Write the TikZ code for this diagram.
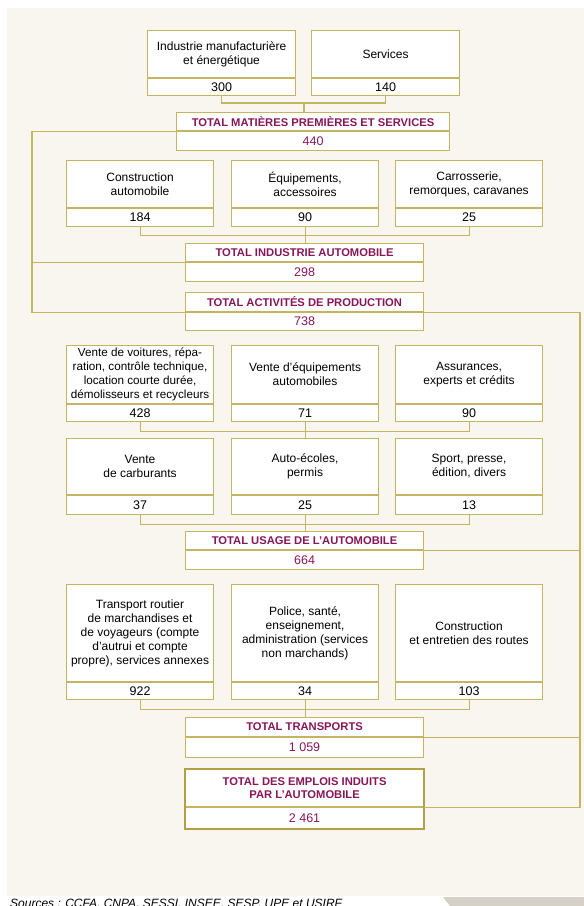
\documentclass[tikz,border=0pt]{standalone}
\usepackage{fontspec}
\setmainfont{Liberation Sans}
\usepackage{xcolor}
\usetikzlibrary{positioning}

\definecolor{goldline}{RGB}{197,180,98}
\definecolor{goldthick}{RGB}{178,160,72}
\definecolor{plum}{RGB}{137,22,88}
\definecolor{paper}{RGB}{249,246,239}
\definecolor{cornergrey}{RGB}{214,209,199}

\begin{document}
\begin{tikzpicture}[x=1pt, y=-1pt,
            catbox/.style={draw=goldline,fill=white,line width=1.1pt,inner sep=0pt,minimum width=147pt,align=center,anchor=north west,font=\fontsize{12}{14}\selectfont},
            numbox/.style={draw=goldline,fill=white,line width=1.1pt,inner sep=0pt,minimum width=147pt,minimum height=18pt,font=\fontsize{12.5}{14}\selectfont},
            totbox/.style={draw=goldline,fill=white,line width=1.1pt,inner sep=0pt,minimum width=238pt,minimum height=18pt,align=center,anchor=north west,text=plum,font=\fontsize{11.2}{13.5}\selectfont\bfseries},
            totnum/.style={draw=goldline,fill=white,line width=1.1pt,inner sep=0pt,minimum width=238pt,minimum height=19pt,text=plum,font=\fontsize{12.5}{14}\selectfont},
            link/.style={draw=goldline,line width=1.1pt}
        ]
            % Page and panel
            \useasboundingbox (0,0) rectangle (584,906);
            \fill[paper] (7,8) rectangle (584,896);
            \fill[cornergrey] (443,897) -- (584,897) -- (584,906) -- (450,906) -- cycle;

            % Raw materials and services
            \node[catbox,minimum width=148pt,minimum height=47pt] (ind) at (147,30) {Industrie manufacturière\\et énergétique};
            \node[numbox,minimum width=148pt,minimum height=17pt,below=0pt of ind] (ind-n) {300};
            \node[catbox,minimum width=148pt,minimum height=47pt] (serv) at (311,30) {Services};
            \node[numbox,minimum width=148pt,minimum height=17pt,below=0pt of serv] (serv-n) {140};

            \node[totbox,minimum width=273pt] (tmp) at (176,112) {TOTAL MATIÈRES PREMIÈRES ET SERVICES};
            \node[totnum,minimum width=273pt,below=0pt of tmp] (tmp-n) {440};

            % Automobile industry
            \node[catbox,minimum height=47pt] (constr) at (66,160) {Construction\\automobile};
            \node[numbox,below=0pt of constr] (constr-n) {184};
            \node[catbox,minimum height=47pt] (equip) at (231,160) {Équipements,\\accessoires};
            \node[numbox,below=0pt of equip] (equip-n) {90};
            \node[catbox,minimum height=47pt] (carr) at (395,160) {Carrosserie,\\remorques, caravanes};
            \node[numbox,below=0pt of carr] (carr-n) {25};

            \node[totbox] (tia) at (185,243) {TOTAL INDUSTRIE AUTOMOBILE};
            \node[totnum,below=0pt of tia] (tia-n) {298};

            \node[totbox,minimum height=19pt] (tap) at (185,292) {TOTAL ACTIVITÉS DE PRODUCTION};
            \node[totnum,minimum height=18pt,below=0pt of tap] (tap-n) {738};

            % Use of the automobile
            \node[catbox,minimum height=58pt,font=\fontsize{11.7}{14}\selectfont] (vente) at (66,345) {Vente de voitures, répa-\\ration, contrôle technique,\\location courte durée,\\démolisseurs et recycleurs};
            \node[numbox,minimum height=17pt,below=0pt of vente] (vente-n) {428};
            \node[catbox,minimum height=58pt] (equipv) at (231,345) {Vente d’équipements\\automobiles};
            \node[numbox,minimum height=17pt,below=0pt of equipv] (equipv-n) {71};
            \node[catbox,minimum height=58pt] (assur) at (395,345) {Assurances,\\experts et crédits};
            \node[numbox,minimum height=17pt,below=0pt of assur] (assur-n) {90};

            \node[catbox,minimum height=56pt] (carb) at (66,438) {Vente\\de carburants};
            \node[numbox,minimum height=19pt,below=0pt of carb] (carb-n) {37};
            \node[catbox,minimum height=56pt] (ecole) at (231,438) {Auto-écoles,\\permis};
            \node[numbox,minimum height=19pt,below=0pt of ecole] (ecole-n) {25};
            \node[catbox,minimum height=56pt] (sport) at (395,438) {Sport, presse,\\édition, divers};
            \node[numbox,minimum height=19pt,below=0pt of sport] (sport-n) {13};

            \node[totbox] (tua) at (185,531) {TOTAL USAGE DE L’AUTOMOBILE};
            \node[totnum,below=0pt of tua] (tua-n) {664};

            % Transports
            \node[catbox,minimum height=97pt] (trans) at (66,584) {Transport routier\\de marchandises et\\de voyageurs (compte\\d’autrui et compte\\propre), services annexes};
            \node[numbox,minimum height=17pt,below=0pt of trans] (trans-n) {922};
            \node[catbox,minimum height=97pt] (police) at (231,584) {Police, santé,\\enseignement,\\administration (services\\non marchands)};
            \node[numbox,minimum height=17pt,below=0pt of police] (police-n) {34};
            \node[catbox,minimum height=97pt] (route) at (395,584) {Construction\\et entretien des routes};
            \node[numbox,minimum height=17pt,below=0pt of route] (route-n) {103};

            \node[totbox,minimum height=19pt] (ttr) at (185,717) {TOTAL TRANSPORTS};
            \node[totnum,minimum height=20pt,below=0pt of ttr] (ttr-n) {1 059};

            % Grand total
            \node[totbox,minimum height=37pt] (tem) at (185,769) {TOTAL DES EMPLOIS INDUITS\\PAR L’AUTOMOBILE};
            \node[totnum,minimum height=21pt,below=0pt of tem] (tem-n) {2 461};
            \draw[goldthick,line width=2.2pt] (tem.north west) rectangle (tem-n.south east);

            % Connections
            \coordinate (j0) at (304,103);
            \draw[link] (ind-n.south) |- (j0) -| (serv-n.south);
            \draw[link] (j0) -- (j0 |- tmp.north);

            \draw[link] (constr-n.south) -- ++(0,8.5) -| (carr-n.south);
            \draw[link] (equip-n.south) -- (equip-n.south |- tia.north);

            \draw[link] (vente-n.south) -- ++(0,9) -| (assur-n.south);
            \draw[link] (equipv-n.south) -- (ecole.north);

            \draw[link] (carb-n.south) -- ++(0,9) -| (sport-n.south);
            \draw[link] (ecole-n.south) -- (ecole-n.south |- tua.north);

            \draw[link] (trans-n.south) -- ++(0,9) -| (route-n.south);
            \draw[link] (police-n.south) -- (police-n.south |- ttr.north);

            % Side rails
            \coordinate (rail-l) at (32,200);
            \coordinate (rail-r) at (580,500);
            \draw[link] (tmp.south west) -| (rail-l) |- (tap.south west);
            \draw[link] (tia.south west) -- (tia.south west -| rail-l);
            \draw[link] (tap.south east) -| (rail-r) |- (tem.south east);
            \draw[link] (tua.south east) -- (tua.south east -| rail-r);
            \draw[link] (ttr.south east) -- (ttr.south east -| rail-r);

            % Sources
            \node[anchor=north west,inner sep=0pt,font=\fontsize{12}{14}\selectfont\itshape] (src) at (10,899) {Sources : CCFA, CNPA, SESSI, INSEE, SESP, UPE et USIRF};
        \end{tikzpicture}
\end{document}
